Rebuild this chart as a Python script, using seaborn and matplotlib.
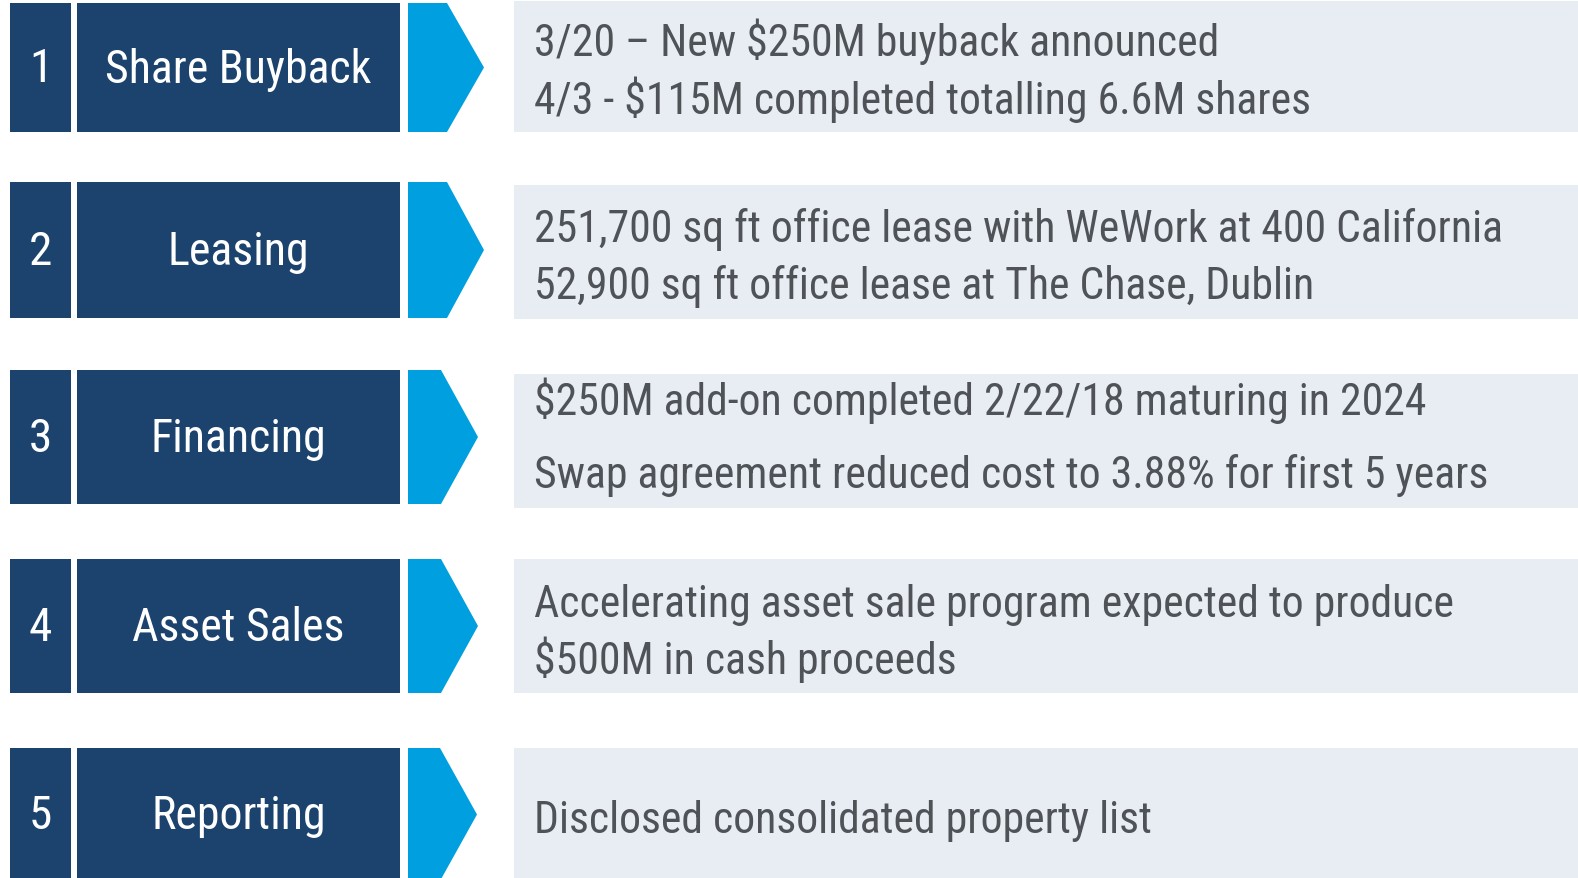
import numpy as np
import pandas as pd
import matplotlib.pyplot as plt
import seaborn as sns
from matplotlib.patches import Rectangle, Polygon


# %%

numbers = ['1', '2', '3', '4', '5']
topics = ['Share Buyback', 'Leasing', 'Financing', 'Asset Sales', 'Reporting']
details = [
    ['3/20 \u2013 New $250M buyback announced',
     '4/3 - $115M completed totalling 6.6M shares'],
    ['251,700 sq ft office lease with WeWork at 400 California',
     '52,900 sq ft office lease at The Chase, Dublin'],
    ['$250M add-on completed 2/22/18 maturing in 2024',
     'Swap agreement reduced cost to 3.88% for first 5 years'],
    ['Accelerating asset sale program expected to produce',
     '$500M in cash proceeds'],
    ['Disclosed consolidated property list'],
]

# %%

sns.set_theme(style='white')
plt.rcParams['font.family'] = ['Roboto Condensed', 'Liberation Sans', 'DejaVu Sans']

navy = '#1b436d'
cyan = '#009fdf'
panel = '#e8ecf3'
grey = '#4f5358'

# layout in pixel units (top, bottom of each row)
box_y = [(4, 133), (183, 319), (371, 505), (560, 694), (749, 882)]
panel_y = [(2, 133), (186, 320), (375, 509), (560, 694), (749, 882)]
tips = [484, 484, 478, 478, 477]
line_base = [[56, 114], [242, 299], [415, 488], [617, 674], [833]]

fig = plt.figure(figsize=(15.78, 8.79), dpi=100)
ax = fig.add_axes([0, 0, 1, 1])
ax.set_xlim(0, 1578)
ax.set_ylim(879, 0)
ax.axis('off')

for i in range(len(topics)):
    y0, y1 = box_y[i]
    mid = (y0 + y1) / 2
    ax.add_patch(Rectangle((10, y0), 61, y1 - y0, color=navy, lw=0))
    ax.add_patch(Rectangle((77, y0), 323, y1 - y0, color=navy, lw=0))
    tip = tips[i]
    ax.add_patch(Polygon([(408, y0), (tip - 37, y0), (tip, mid),
                          (tip - 37, y1), (408, y1)], closed=True,
                         color=cyan, lw=0))
    p0, p1 = panel_y[i]
    ax.add_patch(Rectangle((514, p0), 1100, p1 - p0, color=panel, lw=0))

    ax.text(40.5, mid + 1, numbers[i], color='white', fontsize=34,
            ha='center', va='center')
    ax.text(238.5, mid + 1, topics[i], color='white', fontsize=33,
            ha='center', va='center')
    for line, yb in zip(details[i], line_base[i]):
        ax.text(534, yb, line, color=grey, fontsize=31.5, ha='left', va='baseline')

plt.savefig('out.png', dpi=100)
